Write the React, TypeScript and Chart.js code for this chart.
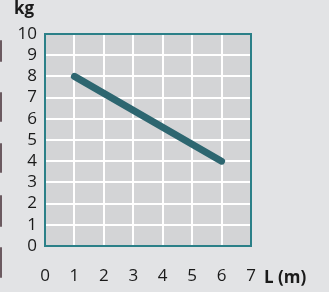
import React, { useEffect, useRef } from "react";
import { Chart, registerables } from "chart.js";
Chart.register(...registerables);

const lengths = [1, 6];
const masses = [8, 4];
const xTicks = [0, 1, 2, 3, 4, 5, 6, 7];
const yTicks = [0, 1, 2, 3, 4, 5, 6, 7, 8, 9, 10];
const yTitle = "kg";
const xTitle = "L (m)";

const FONT = "'Open Sans', 'Noto Sans', sans-serif";

const framePlugin = {
  id: "frame",
  beforeDraw(chart: any) {
    const { ctx, chartArea: a } = chart;
    ctx.save();
    ctx.fillStyle = "#d3d4d6";
    ctx.fillRect(a.left, a.top, a.right - a.left, a.bottom - a.top);
    ctx.restore();
  },
  beforeDatasetsDraw(chart: any) {
    const { ctx, chartArea: a } = chart;
    ctx.save();
    ctx.strokeStyle = "#2b8088";
    ctx.lineWidth = 2;
    ctx.strokeRect(a.left, a.top, a.right - a.left, a.bottom - a.top);
    ctx.restore();
  },
  afterDraw(chart: any) {
    const { ctx, chartArea: a } = chart;
    ctx.save();
    ctx.fillStyle = "#1a1a1a";
    ctx.font = `bold 17px ${FONT}`;
    ctx.textBaseline = "alphabetic";
    ctx.textAlign = "center";
    ctx.fillText(yTitle, a.left - 21, a.top - 20);
    ctx.textAlign = "left";
    ctx.fillText(xTitle, a.right + 13, a.bottom + 37);
    ctx.restore();
  },
};

export default function App() {
  const ref = useRef<HTMLCanvasElement>(null);
  useEffect(() => {
    const chart = new Chart(ref.current!, {
      type: "line",
      data: {
        datasets: [
          {
            data: lengths.map((x, i) => ({ x, y: masses[i] })),
            borderColor: "#2d6670",
            borderWidth: 7,
            borderCapStyle: "round",
            pointRadius: 0,
            fill: false,
          },
        ],
      },
      options: {
        animation: false,
        responsive: false,
        devicePixelRatio: 1,
        layout: { padding: { top: 34, right: 78, left: 0, bottom: 0 } },
        plugins: { legend: { display: false }, tooltip: { enabled: false } },
        scales: {
          x: {
            type: "linear",
            min: xTicks[0],
            max: xTicks[xTicks.length - 1],
            afterBuildTicks: (s: any) => {
              s.ticks = xTicks.map((v) => ({ value: v }));
            },
            afterFit: (s: any) => {
              s.height = 46;
            },
            border: { display: false },
            grid: { color: "#ffffff", lineWidth: 2, drawTicks: false },
            ticks: {
              padding: 20,
              autoSkip: false,
              color: "#1a1a1a",
              font: { family: FONT, size: 17 },
              maxRotation: 0,
            },
          },
          y: {
            type: "linear",
            min: yTicks[0],
            max: yTicks[yTicks.length - 1],
            afterBuildTicks: (s: any) => {
              s.ticks = yTicks.map((v) => ({ value: v }));
            },
            afterFit: (s: any) => {
              s.width = 45;
            },
            border: { display: false },
            grid: { color: "#ffffff", lineWidth: 2, drawTicks: false },
            ticks: {
              padding: 8,
              autoSkip: false,
              color: "#1a1a1a",
              font: { family: FONT, size: 17 },
            },
          },
        },
      },
      plugins: [framePlugin],
    } as any);
    return () => chart.destroy();
  }, []);

  const marks = [
    [40, 22],
    [92, 30],
    [143, 30],
    [195, 32],
    [247, 31],
  ];

  return (
    <div
      style={{
        position: "fixed",
        left: 0,
        top: 0,
        width: 329,
        height: 292,
        background: "#e2e3e5",
      }}
    >
      {marks.map(([t, h], i) => (
        <div
          key={i}
          style={{
            position: "absolute",
            left: 0,
            top: t,
            width: 2,
            height: h,
            background: "#6b5a60",
            borderRadius: 1,
          }}
        />
      ))}
      <canvas
        ref={ref}
        width={329}
        height={292}
        style={{ position: "absolute", left: 0, top: 0, width: 329, height: 292 }}
      />
    </div>
  );
}
